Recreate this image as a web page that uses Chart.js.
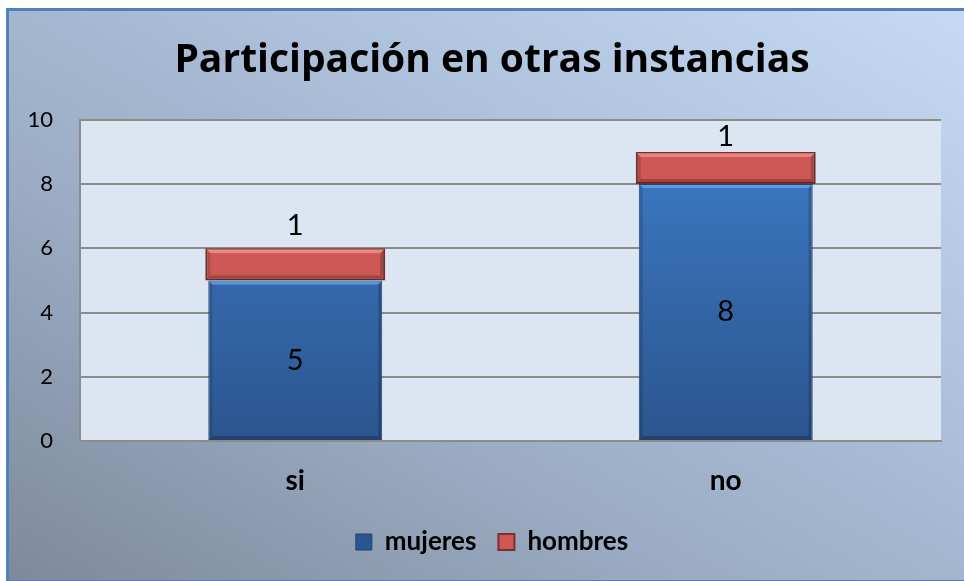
<!DOCTYPE html>
<html>
<head>
<meta charset="utf-8">
<script src="https://cdn.jsdelivr.net/npm/chart.js@4.4.1/dist/chart.umd.min.js"></script>
<style>
  html, body { margin: 0; padding: 0; background: #ffffff; width: 964px; height: 581px; overflow: hidden; }
  #frame {
    position: absolute; left: 6px; top: 8px; width: 970px; height: 569px;
    border-left: 3px solid #4F81BD; border-top: 3px solid #4F81BD; border-bottom: 3px solid #4F81BD;
    background: linear-gradient(to top right, #7d8a9a 0%, #9aabc3 35%, #b2c5df 70%, #c6daf3 100%);
  }
  #wrap { position: absolute; left: 0; top: 0; width: 978px; height: 581px; }
</style>
</head>
<body>
<div id="frame"></div>
<div id="wrap"><canvas id="c" width="978" height="581"></canvas></div>
<script>
const titleText = 'Participación en otras instancias';
const categories = ['si', 'no'];
const seriesNames = ['mujeres', 'hombres'];
const mujeres = [5, 8];
const hombres = [1, 1];
const yTicks = [0, 2, 4, 6, 8, 10];

const FONT = 'Lato, "Open Sans", sans-serif';
const TITLE_FONT = '"Open Sans", Lato, sans-serif';
Chart.defaults.font.family = FONT;
Chart.defaults.color = '#000000';

function blueFill(ctx) {
  const chart = ctx.chart;
  const a = chart.chartArea;
  if (!a) return '#3A72BA';
  const g = chart.ctx.createLinearGradient(0, a.top, 0, a.bottom);
  g.addColorStop(0, '#3E7DC9');
  g.addColorStop(1, '#2B558E');
  return g;
}

const plotBg = {
  id: 'plotBg',
  beforeDraw(chart) {
    const a = chart.chartArea;
    const c = chart.ctx;
    c.save();
    c.fillStyle = '#DCE6F2';
    c.fillRect(a.left, a.top, a.right - a.left, a.bottom - a.top);
    c.restore();
  }
};

// subtle bevel shading on each bar, using the bar elements laid out by Chart.js
const bevel = {
  id: 'bevel',
  afterDatasetsDraw(chart) {
    const c = chart.ctx;
    c.save();
    chart.data.datasets.forEach((ds, di) => {
      const meta = chart.getDatasetMeta(di);
      const b = di === 0 ? 3 : 4;
      meta.data.forEach((bar) => {
        const w = bar.width;
        const l = bar.x - w / 2 + 1, r = bar.x + w / 2 - 1;
        const t = Math.min(bar.y, bar.base) + 1, btm = Math.max(bar.y, bar.base) - 1;
        const poly = (pts, col) => {
          c.beginPath();
          c.moveTo(pts[0][0], pts[0][1]);
          for (let k = 1; k < pts.length; k++) c.lineTo(pts[k][0], pts[k][1]);
          c.closePath();
          c.fillStyle = col;
          c.fill();
        };
        poly([[l, t], [r, t], [r - b, t + b], [l + b, t + b]], di === 0 ? 'rgba(120,185,255,0.55)' : 'rgba(255,160,158,0.6)');
        poly([[l, btm], [r, btm], [r - b, btm - b], [l + b, btm - b]], 'rgba(0,0,0,0.22)');
        poly([[l, t], [l + b, t + b], [l + b, btm - b], [l, btm]], 'rgba(0,0,0,0.14)');
        poly([[r, t], [r - b, t + b], [r - b, btm - b], [r, btm]], 'rgba(0,0,0,0.2)');
      });
    });
    c.restore();
  }
};

const valueLabels = {
  id: 'valueLabels',
  afterDatasetsDraw(chart) {
    const c = chart.ctx;
    const a = chart.chartArea;
    c.save();
    c.font = '29px ' + FONT;
    c.fillStyle = '#000000';
    c.textAlign = 'center';
    c.textBaseline = 'middle';
    chart.data.datasets.forEach((ds, di) => {
      const meta = chart.getDatasetMeta(di);
      meta.data.forEach((bar, i) => {
        const v = ds.data[i];
        let y;
        if (di === 0) {
          y = (bar.y + bar.base) / 2;
        } else {
          y = Math.max(bar.y - 23, a.top + 17);
        }
        c.fillText(String(v), bar.x, y);
      });
    });
    c.restore();
  }
};

new Chart(document.getElementById('c'), {
  type: 'bar',
  data: {
    labels: categories,
    datasets: [
      {
        label: seriesNames[0],
        data: mujeres,
        backgroundColor: blueFill,
        borderColor: '#21436e',
        borderWidth: 1,
        borderSkipped: false,
        barPercentage: 0.404,
        categoryPercentage: 1
      },
      {
        label: seriesNames[1],
        data: hombres,
        backgroundColor: '#CD5855',
        borderColor: '#7a2f2d',
        borderWidth: 2,
        borderSkipped: false,
        barPercentage: 0.418,
        categoryPercentage: 1
      }
    ]
  },
  options: {
    responsive: false,
    animation: false,
    layout: { padding: { left: 6, right: 0, top: 10, bottom: 16 } },
    plugins: {
      title: {
        display: true,
        text: titleText,
        color: '#000000',
        font: { size: 39, weight: 'bold', family: TITLE_FONT },
        padding: { top: 27, bottom: 36 }
      },
      legend: {
        display: true,
        position: 'bottom',
        labels: {
          boxWidth: 16,
          boxHeight: 16,
          padding: 22,
          color: '#000000',
          font: { size: 26, weight: 'bold', family: FONT }
        }
      },
      tooltip: { enabled: false }
    },
    scales: {
      x: {
        stacked: true,
        grid: { display: false },
        border: { display: true, color: '#8C8C8C', width: 2 },
        ticks: { padding: 15, font: { size: 28, weight: 'bold', family: FONT }, color: '#000000' },
        afterFit(scale) { scale.height = 66; }
      },
      y: {
        stacked: true,
        min: 0,
        max: 10,
        afterBuildTicks(scale) { scale.ticks = yTicks.map(v => ({ value: v })); },
        ticks: { padding: 27, font: { size: 22, family: FONT }, color: '#000000' },
        grid: { color: '#8C8C8C', lineWidth: 2, drawTicks: false },
        border: { display: true, color: '#8C8C8C', width: 2 },
        afterFit(scale) { scale.width = 74; }
      },
      yPad: {
        type: 'linear',
        position: 'right',
        display: true,
        grid: { display: false, drawTicks: false },
        border: { display: false },
        ticks: { display: false },
        afterFit(scale) { scale.width = 37; }
      }
    }
  },
  plugins: [plotBg, bevel, valueLabels]
});
</script>
</body>
</html>
